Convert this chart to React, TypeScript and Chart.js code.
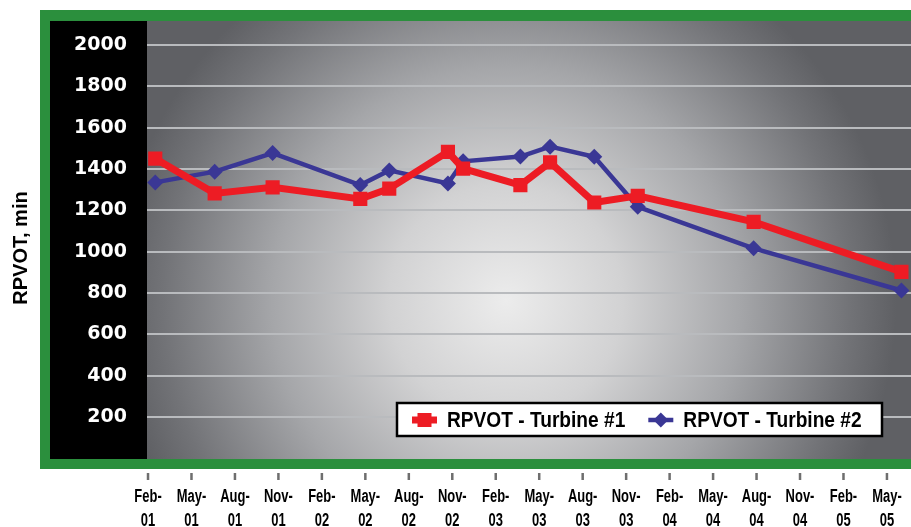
import React, { useEffect, useRef } from "react";
import { Chart, registerables } from "chart.js";

Chart.register(...registerables);

// Test dates, as months after 1 Feb 2001
const testMonths = [0.5, 4.6, 8.6, 14.65, 16.65, 20.7, 21.75, 25.7, 27.75, 30.8, 33.8, 41.8, 52.0];
const turbine1 = [1450, 1282, 1311, 1255, 1305, 1483, 1402, 1322, 1432, 1238, 1270, 1144, 902];
const turbine2 = [1335, 1387, 1477, 1322, 1393, 1330, 1437, 1460, 1508, 1459, 1217, 1016, 812];
const seriesNames = ["RPVOT - Turbine #1", "RPVOT - Turbine #2"];

const xTickValues = [0, 3, 6, 9, 12, 15, 18, 21, 24, 27, 30, 33, 36, 39, 42, 45, 48, 51];
const xTickLabels = [
  "Feb-01", "May-01", "Aug-01", "Nov-01",
  "Feb-02", "May-02", "Aug-02", "Nov-02",
  "Feb-03", "May-03", "Aug-03", "Nov-03",
  "Feb-04", "May-04", "Aug-04", "Nov-04",
  "Feb-05", "May-05",
];
const yTickValues = [200, 400, 600, 800, 1000, 1200, 1400, 1600, 1800, 2000];
const yTitle = "RPVOT, min";

const RED = "#ed1c24";
const BLUE = "#3a3795";
const GREEN = "#2b8f3d";
const SANS = "'Liberation Sans', Arial, sans-serif";

function condensedText(ctx: any, text: string, x: number, y: number, sx: number, align: string) {
  ctx.save();
  ctx.translate(x, y);
  ctx.scale(sx, 1);
  ctx.textAlign = align;
  ctx.fillText(text, 0, 0);
  ctx.restore();
}

const framePlugin = {
  id: "frame",
  beforeDraw(chart: any) {
    const { ctx, chartArea: a } = chart;
    ctx.save();
    ctx.fillStyle = "#ffffff";
    ctx.fillRect(0, 0, chart.width, chart.height);
    ctx.fillStyle = GREEN;
    ctx.fillRect(40, 10, chart.width, 459);
    ctx.fillStyle = "#000000";
    ctx.fillRect(50, a.top, a.left - 50, 459 - a.top);
    const cx = a.left + (a.right - a.left) * 0.47;
    const cy = a.top + (a.bottom - a.top) * 0.64;
    const g = ctx.createRadialGradient(cx, cy, 0, cx, cy, 390);
    g.addColorStop(0, "#ececec");
    g.addColorStop(0.3, "#d2d2d3");
    g.addColorStop(0.6, "#a5a6a9");
    g.addColorStop(0.88, "#727377");
    g.addColorStop(1, "#5f6064");
    ctx.fillStyle = g;
    ctx.fillRect(a.left, a.top, a.right - a.left, 459 - a.top);
    ctx.restore();
  },
  afterDraw(chart: any) {
    const { ctx } = chart;
    const xs = chart.scales.x;
    ctx.save();
    // x tick marks and labels below the frame
    ctx.font = "bold 18px " + SANS;
    ctx.textBaseline = "middle";
    xTickValues.forEach((v, i) => {
      const px = xs.getPixelForValue(v);
      ctx.fillStyle = "#6e6e6e";
      ctx.fillRect(px - 1.25, 473, 2.5, 7);
      ctx.fillStyle = "#000";
      const parts = xTickLabels[i].split("-");
      condensedText(ctx, parts[0] + "-", px, 497, 0.72, "center");
      condensedText(ctx, parts[1], px, 521, 0.72, "center");
    });
    // y title
    ctx.save();
    ctx.translate(21, 248);
    ctx.rotate(-Math.PI / 2);
    ctx.fillStyle = "#000";
    ctx.font = "bold 20px " + SANS;
    ctx.textAlign = "center";
    ctx.textBaseline = "middle";
    ctx.fillText(yTitle, 0, 0);
    ctx.restore();
    // legend
    const bx = 397, by = 403, bw = 485, bh = 33;
    ctx.fillStyle = "#fff";
    ctx.fillRect(bx, by, bw, bh);
    ctx.lineWidth = 2.5;
    ctx.strokeStyle = "#000";
    ctx.strokeRect(bx, by, bw, bh);
    ctx.font = "bold 22px " + SANS;
    ctx.textBaseline = "middle";
    const sx = 0.87;
    const cyL = by + bh / 2 + 0.5;
    let x = bx + 15;
    chart.data.datasets.forEach((ds: any) => {
      ctx.strokeStyle = ds.borderColor;
      ctx.lineWidth = ds.borderWidth;
      ctx.beginPath();
      ctx.moveTo(x, cyL);
      ctx.lineTo(x + 25, cyL);
      ctx.stroke();
      ctx.fillStyle = ds.borderColor;
      const mx = x + 12.5;
      if (ds.pointStyle === "rect") {
        ctx.fillRect(mx - 7, cyL - 7, 14, 14);
      } else {
        ctx.beginPath();
        ctx.moveTo(mx - 7.5, cyL);
        ctx.lineTo(mx, cyL - 7.5);
        ctx.lineTo(mx + 7.5, cyL);
        ctx.lineTo(mx, cyL + 7.5);
        ctx.closePath();
        ctx.fill();
      }
      ctx.fillStyle = "#000";
      condensedText(ctx, ds.label, x + 35, cyL + 1, sx, "left");
      x += 35 + ctx.measureText(ds.label).width * sx + 23;
    });
    ctx.restore();
  },
};

export default function App() {
  const canvasRef = useRef<HTMLCanvasElement | null>(null);

  useEffect(() => {
    const canvas = canvasRef.current;
    if (!canvas) return;
    const chart = new Chart(canvas, {
      type: "line",
      data: {
        datasets: [
          {
            label: seriesNames[0],
            data: testMonths.map((m, i) => ({ x: m, y: turbine1[i] })),
            borderColor: RED,
            backgroundColor: RED,
            borderWidth: 7,
            pointStyle: "rect",
            pointRadius: 10,
            pointBorderWidth: 0,
            pointBackgroundColor: RED,
            tension: 0,
            fill: false,
          },
          {
            label: seriesNames[1],
            data: testMonths.map((m, i) => ({ x: m, y: turbine2[i] })),
            borderColor: BLUE,
            backgroundColor: BLUE,
            borderWidth: 4.5,
            pointStyle: "rectRot",
            pointRadius: 8,
            pointBorderWidth: 0,
            pointBackgroundColor: BLUE,
            tension: 0,
            fill: false,
          },
        ],
      },
      options: {
        responsive: false,
        animation: false,
        layout: { autoPadding: false, padding: { top: 21, left: 0, right: 0, bottom: 0 } },
        plugins: {
          legend: { display: false },
          tooltip: { enabled: false },
          title: { display: false },
        },
        scales: {
          x: {
            type: "linear",
            min: -0.07,
            max: 52.66,
            afterBuildTicks: (s: any) => {
              s.ticks = xTickValues.map((v) => ({ value: v }));
            },
            afterFit: (s: any) => {
              s.height = 68.7;
              s.paddingLeft = 0;
              s.paddingRight = 0;
            },
            grid: { display: false },
            border: { display: false },
            ticks: { display: false },
          },
          y: {
            min: 0,
            max: 2116,
            afterBuildTicks: (s: any) => {
              s.ticks = yTickValues.map((v) => ({ value: v }));
            },
            afterFit: (s: any) => {
              s.width = 147;
              s.paddingTop = 0;
              s.paddingBottom = 0;
            },
            grid: { color: "#b9bbbe", lineWidth: 2, drawTicks: false },
            border: { display: false },
            ticks: {
              color: "#ffffff",
              padding: 20,
              font: { family: "'DejaVu Sans', sans-serif", weight: "bold", size: 19 },
              callback: (v: any) => String(v),
            },
          },
        },
      },
      plugins: [framePlugin],
    } as any);
    return () => chart.destroy();
  }, []);

  return (
    <div style={{ position: "absolute", left: 0, top: 0, width: 911, height: 527 }}>
      <canvas ref={canvasRef} width={911} height={527} style={{ display: "block" }} />
    </div>
  );
}
